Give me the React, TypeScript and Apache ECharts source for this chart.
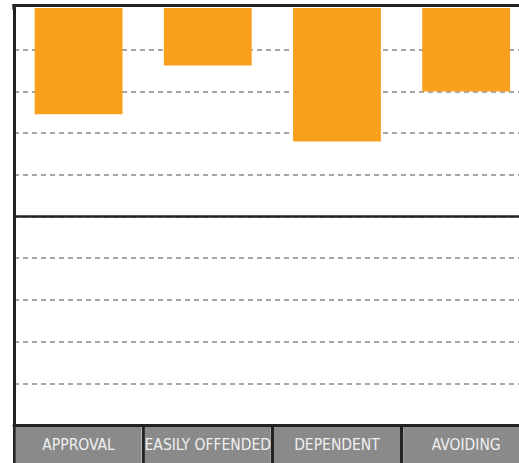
import React, { useEffect, useRef } from "react";
import * as echarts from "echarts";

const categories = ["APPROVAL", "EASILY OFFENDED", "DEPENDENT", "AVOIDING"];
const values = [25.5, 13.8, 32, 20];
const midValue = 50;

export default function App() {
  const ref = useRef<HTMLDivElement>(null);
  useEffect(() => {
    if (!ref.current) return;
    const chart = echarts.init(ref.current, null, { renderer: "svg" });
    chart.setOption({
      animation: false,
      grid: {
        left: 14,
        top: 8,
        right: 0,
        bottom: 38,
        show: false,
      },
      graphic: {
        elements: [
          {
            type: "line",
            shape: { x1: 12.5, y1: 5.5, x2: 532, y2: 5.5 },
            style: { stroke: "#222", lineWidth: 3 },
            z: 100,
          },
          {
            type: "line",
            shape: { x1: 14, y1: 4, x2: 14, y2: 10 },
            style: { stroke: "#222", lineWidth: 3 },
            z: 100,
          },
        ],
      },
      xAxis: {
        type: "category",
        data: categories,
        position: "bottom",
        axisLine: { show: true, onZero: false, lineStyle: { color: "#222", width: 3 } },
        axisTick: {
          show: true,
          interval: 0,
          length: 38,
          lineStyle: { color: "#222", width: 3 },
        },
        axisLabel: {
          interval: 0,
          margin: 2,
          width: 126,
          height: 36,
          lineHeight: 36,
          align: "center",
          backgroundColor: "#8a8a8a",
          color: "#f0f0f0",
          fontSize: 15.5,
          fontFamily: "'DejaVu Sans Condensed', sans-serif",
        },
        splitLine: { show: false },
        z: 10,
      },
      yAxis: {
        type: "value",
        inverse: true,
        min: 0,
        max: 100,
        interval: 10,
        axisLabel: { show: false },
        axisLine: { show: true, onZero: false, lineStyle: { color: "#222", width: 3 } },
        axisTick: { show: false },
        splitLine: {
          show: true,
          showMinLine: false,
          showMaxLine: false,
          lineStyle: { color: "#888", type: [5, 4], width: 1.5 },
        },
      },
      series: [
        {
          type: "bar",
          data: values,
          barWidth: "68%",
          itemStyle: { color: "#F8A01C" },
          markLine: {
            silent: true,
            symbol: "none",
            label: { show: false },
            lineStyle: { color: "#222", type: "solid", width: 2.5 },
            data: [{ yAxis: midValue }],
          },
        },
      ],
    });
    return () => chart.dispose();
  }, []);
  return (
    <div
      ref={ref}
      style={{ position: "fixed", left: 0, top: 0, width: 532, height: 463, background: "#fff" }}
    />
  );
}
